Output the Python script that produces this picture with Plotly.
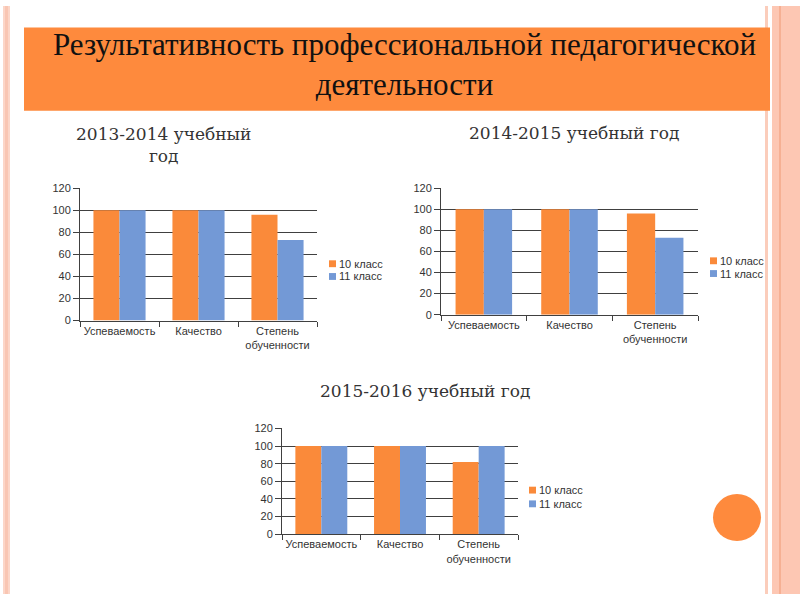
import plotly.graph_objects as go

# ---------------- data ----------------
categories = ["Успеваемость", "Качество", "Степень<br>обученности"]
series_names = ["10 класс", "11 класс"]
chart_titles = ["2013-2014 учебный<br>год", "2014-2015 учебный год", "2015-2016 учебный год"]
main_title = "Результативность профессиональной педагогической<br>деятельности"

values_2013_10 = [100, 100, 96]
values_2013_11 = [100, 100, 73]
values_2014_10 = [100, 100, 96]
values_2014_11 = [100, 100, 73]
values_2015_10 = [100, 100, 82]
values_2015_11 = [100, 100, 100]

y_tickvals = [0, 20, 40, 60, 80, 100, 120]

# ---------------- styles ----------------
W, H = 800, 600
ORANGE = "#FA8A3A"
BLUE = "#7399D6"
BANNER = "#FE8A3D"
GRID = "#404040"
TXT = "#333333"
SANS = "Liberation Sans, Arial, sans-serif"
SERIF = "Liberation Serif, Times New Roman, serif"
SERIF2 = "DejaVu Serif, serif"
colors = [ORANGE, BLUE]


def fx(px):
    return px / W


def fy(py):
    return 1 - py / H


# chart boxes in pixels: (left, right, top, bottom)
boxes = [(80, 317, 186, 321), (441, 698, 186, 315), (282, 518, 431, 539)]
legend_pos = [(329, 263, 276), (710, 260, 273), (529, 494, 508)]
title_pos = [(163, 142), (574, 130), (425, 393)]

data_sets = [
    (values_2013_10, values_2013_11),
    (values_2014_10, values_2014_11),
    (values_2015_10, values_2015_11),
]

fig = go.Figure()
shapes = []
annotations = []

# page decorations
shapes.append(dict(type="rect", xref="paper", yref="paper", x0=fx(3), x1=fx(10), y0=0, y1=1,
                   fillcolor="#FCD6C8", line=dict(width=0), layer="below"))
shapes.append(dict(type="rect", xref="paper", yref="paper", x0=fx(5), x1=fx(8), y0=0, y1=1,
                   fillcolor="#F9C6B3", line=dict(width=0), layer="below"))
shapes.append(dict(type="rect", xref="paper", yref="paper", x0=fx(765), x1=fx(768), y0=0, y1=1,
                   fillcolor="#FBCDBB", line=dict(width=0), layer="below"))
shapes.append(dict(type="rect", xref="paper", yref="paper", x0=fx(772), x1=1, y0=0, y1=1,
                   fillcolor="#FDC7B3", line=dict(width=0), layer="below"))
shapes.append(dict(type="rect", xref="paper", yref="paper", x0=fx(779), x1=fx(781), y0=0, y1=1,
                   fillcolor="#F6B093", line=dict(width=0), layer="below"))
# banner
shapes.append(dict(type="rect", xref="paper", yref="paper", x0=fx(24), x1=fx(770), y0=fy(107), y1=fy(22),
                   fillcolor=BANNER, line=dict(width=0), layer="below"))
annotations.append(dict(text=main_title, x=fx(404), y=fy(60), xref="paper", yref="paper",
                        showarrow=False, xanchor="center", yanchor="middle",
                        font=dict(family=SERIF, size=31, color="#111111")))
# circle
shapes.append(dict(type="circle", xref="paper", yref="paper", x0=fx(713), x1=fx(761), y0=fy(546), y1=fy(498),
                   fillcolor=BANNER, line=dict(width=0), layer="below"))

for i, (box, vals) in enumerate(zip(boxes, data_sets)):
    sfx = "" if i == 0 else str(i + 1)
    l, r, t, b = box
    for j, v in enumerate(vals):
        fig.add_trace(go.Bar(x=categories, y=v, name=series_names[j], marker=dict(color=colors[j], line=dict(width=0)),
                             xaxis="x" + sfx, yaxis="y" + sfx, showlegend=False))
    fig.layout["xaxis" + sfx] = dict(domain=[fx(l), fx(r)], anchor="y" + sfx, type="category",
                                     showline=True, linecolor=GRID, linewidth=1, ticks="outside",
                                     tickson="boundaries", ticklen=5, tickcolor=GRID, showgrid=False,
                                     tickangle=0,
                                     tickfont=dict(family=SANS, size=11, color=TXT))
    fig.layout["yaxis" + sfx] = dict(domain=[fy(b), fy(t)], anchor="x" + sfx, range=[0, 120],
                                     tickvals=y_tickvals, showgrid=True, gridcolor=GRID, gridwidth=1,
                                     showline=True, linecolor=GRID, linewidth=1, ticks="outside",
                                     ticklen=6, tickcolor=GRID, zeroline=False,
                                     tickfont=dict(family=SANS, size=11, color=TXT))
    # legend (manual)
    lx, ly1, ly2 = legend_pos[i]
    for j, ly in enumerate([ly1, ly2]):
        shapes.append(dict(type="rect", xref="paper", yref="paper", x0=fx(lx), x1=fx(lx + 7),
                           y0=fy(ly + 3.5), y1=fy(ly - 3.5), fillcolor=colors[j], line=dict(width=0)))
        annotations.append(dict(text=series_names[j], x=fx(lx + 8), y=fy(ly), xref="paper", yref="paper",
                                showarrow=False, xanchor="left", yanchor="middle",
                                font=dict(family=SANS, size=11, color=TXT)))
    tx, ty = title_pos[i]
    annotations.append(dict(text=chart_titles[i], x=fx(tx), y=fy(ty), xref="paper", yref="paper",
                            showarrow=False, xanchor="center", yanchor="middle",
                            font=dict(family=SERIF2, size=17, color=TXT)))

fig.update_layout(width=W, height=H, margin=dict(l=0, r=0, t=0, b=0), paper_bgcolor="white",
                  plot_bgcolor="white", bargap=0.34, bargroupgap=0, barmode="group",
                  shapes=shapes, annotations=annotations)

fig.write_html("out.html", config={"displayModeBar": False})
